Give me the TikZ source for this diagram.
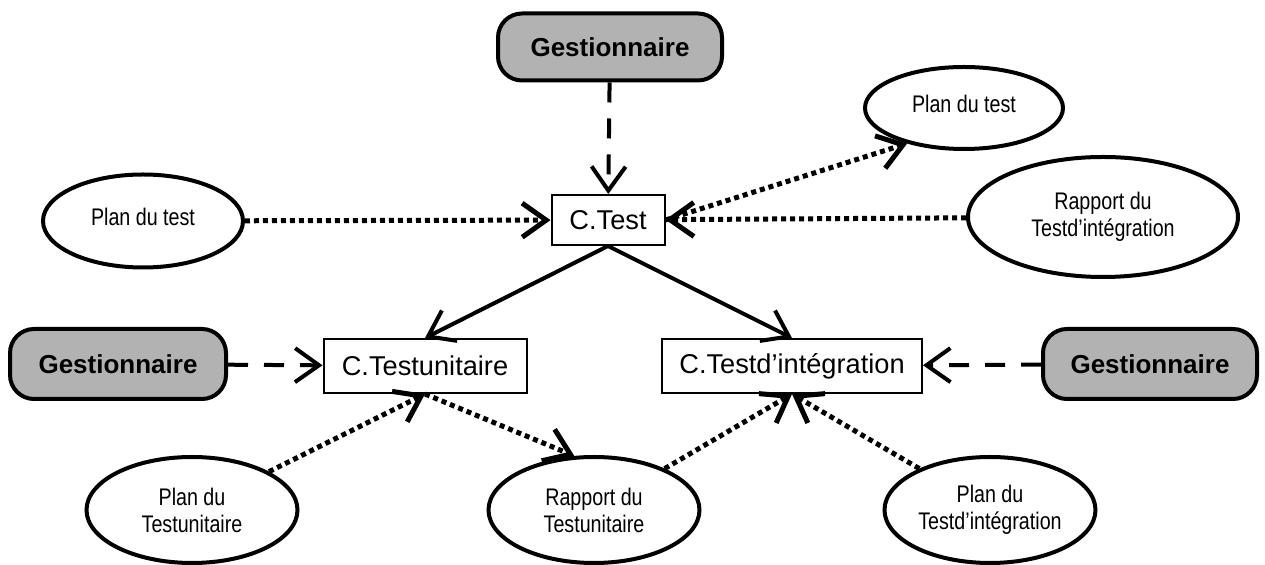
\documentclass[tikz,border=0pt]{standalone}
\usepackage{fontspec}
\setmainfont{Liberation Sans}
\newfontfamily\narrowsf[FakeStretch=0.82]{Liberation Sans}
\usetikzlibrary{arrows.meta,shapes.geometric}

\begin{document}
\begin{tikzpicture}[x=0.5pt,y=-0.5pt,>={Straight Barb[length=12pt,width=17pt]},
  gest/.style={draw,line width=2pt,rounded corners=12pt,fill=black!30,
    font=\fontsize{13}{15}\selectfont\bfseries,minimum width=108pt,minimum height=35pt},
  comp/.style={draw,line width=1pt,fill=white,font=\fontsize{13.6}{15}\selectfont,
    minimum height=27pt},
  doc/.style={draw,ellipse,line width=2pt,fill=white,align=center,inner sep=0pt,
    font=\narrowsf\fontsize{12}{13.5}\selectfont},
  dasharrow/.style={->,line width=2pt,dash pattern=on 10pt off 8pt},
  dotarrow/.style={->,line width=2.5pt,dash pattern=on 2.5pt off 2pt},
  plainarrow/.style={->,line width=2pt}]
  \useasboundingbox (0,0) rectangle (1265,565);
  % Top row
  \node[gest,minimum height=33.5pt,minimum width=112pt] (gtop) at (610,47) {Gestionnaire};
  \node[comp,minimum width=56.5pt,minimum height=25pt] (ctest) at (608,220) {C.Test};
  \node[doc,minimum width=100pt,minimum height=46.5pt] (planl) at (143,221) {\raisebox{4pt}{Plan du test}};
  \node[doc,minimum width=99pt,minimum height=41pt] (plantr) at (964,108) {\raisebox{4pt}{Plan du test}};
  \node[doc,minimum width=135pt,minimum height=60pt] (rapportr) at (1103,217) {Rapport du\\Testd’intégration};
  % Middle row
  \node[gest] (gleft) at (118,364) {Gestionnaire};
  \node[comp,minimum width=101.5pt] (cunit) at (425,366) {C.Testunitaire};
  \node[comp,minimum width=130pt] (cinteg) at (792,366) {C.Testd’intégration};
  \node[gest,minimum width=107pt] (gright) at (1150,364) {Gestionnaire};
  % Bottom row
  \node[doc,minimum width=105.5pt,minimum height=53pt] (planu) at (192,510) {Plan du\\Testunitaire};
  \node[doc,minimum width=105.5pt,minimum height=53pt] (rapportu) at (594,510) {Rapport du\\Testunitaire};
  \node[doc,minimum width=105.5pt,minimum height=53pt] (plani) at (990,510) {Plan du\\Testd’intégration};
  % Connectors
  \draw[dasharrow] (gtop) -- (ctest);
  \draw[dotarrow] (planl) -- (ctest);
  \draw[dotarrow] (ctest.east) -- (plantr.212);
  \draw[dotarrow] (rapportr) -- (ctest);
  \draw[plainarrow] (ctest.south) -- (cunit.north);
  \draw[plainarrow] (ctest.south) -- (cinteg.north);
  \draw[dasharrow] (gleft) -- (cunit);
  \draw[dasharrow] (gright) -- (cinteg);
  \draw[dotarrow] (planu) -- (cunit.south);
  \draw[dotarrow] (cunit.south) -- (rapportu.110);
  \draw[dotarrow] (rapportu) -- (cinteg.south);
  \draw[dotarrow] (plani) -- (cinteg.south);
\end{tikzpicture}
\end{document}
